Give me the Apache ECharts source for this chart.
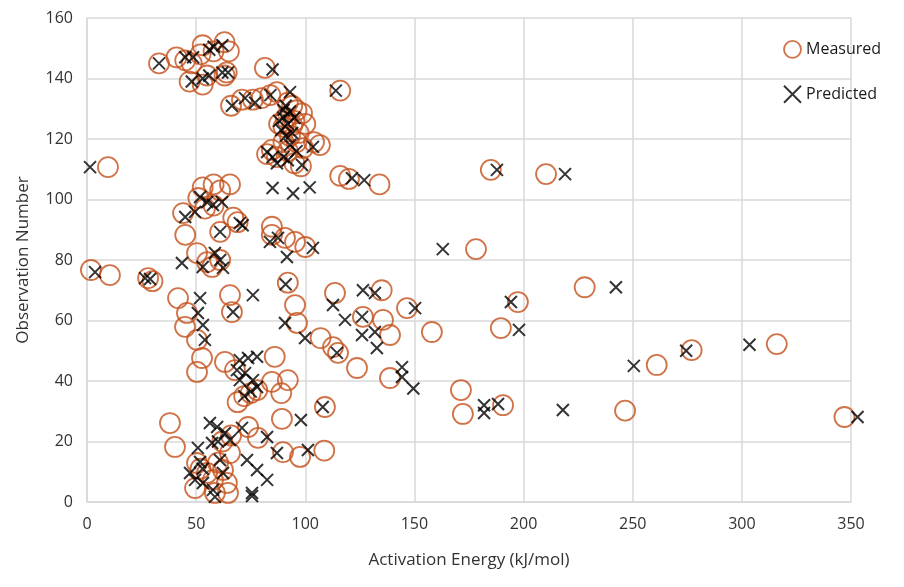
<!DOCTYPE html>
<html><head><meta charset="utf-8">
<script src="https://cdn.jsdelivr.net/npm/echarts@6/dist/echarts.min.js"></script>
<style>html,body{margin:0;padding:0;background:#fff}#c{width:904px;height:587px}</style>
</head><body><div id="c"></div>
<script>
const xTicks = [0,50,100,150,200,250,300,350];
const yTicks = [0,20,40,60,80,100,120,140,160];
const measured = [
[33,145],[41,147],[45,146],[48,145],[52,148],[53,151],[58,149],[63,152],[65,149],[47,139],[53,138],[55,141],[63,141],[64,142],[81.5,143.5],[66,131],[71,133],[76,133],[80,133.5],[84,134.5],[87,135.5],[92,132],[94,131],[96,129.5],[98.5,128.5],[116,136],
[88,125],[90,124],[91,127],[93,121],[94,124.5],[95,126],[96,119],[97,122],[99,117],[90,119],[92,116],[100,125],[98,111],[106.7,118],[104,119],[84.7,116.4],[82.5,115],[87,114],[95,112],
[9.6,110.7],[116,107.8],[120,106.8],[134,105],[185,109.8],[210.3,108.4],
[53,104],[58,105],[65.5,105],[61,103],[51,100.5],[44,95.5],[54,97],[58,98],[67,94],[69,92.5],[84.7,91],[84.7,88.3],[90.7,87.3],[95.3,86],[100,84.3],[178.2,83.6],[45,88.3],[61,89.3],
[1.8,76.7],[10.5,75],[28,74],[30,73],[50.4,82.3],[55,79.3],[57.3,77.7],[61,80],[92,72.5],[113.6,69.1],[135,70],[228,71],
[41.7,67.4],[45.8,62.5],[44.9,57.9],[65.5,68.4],[66.4,62.8],[95.3,65.1],[96.2,59.2],[146.6,64.1],[126.4,61.2],[135.6,60.2],[138.8,55.2],[158,56.2],[197.4,66.1],[189.6,57.5],
[50.4,53.6],[52.7,47.6],[50.4,43],[63.2,46.3],[67.8,43.6],[86,48],[84.7,39.7],[92,40.3],[107,54.2],[112.7,51.2],[115,49.3],[123.7,44.3],[138.8,41],[261,45.3],[277,50.2],[316,52.2],
[69,33],[72,35],[75,36],[78,37],[89,36],[171.3,37],[172.2,29.1],[190.6,32],[246.5,30.2],[347,28.1],[38,26.1],[109,31.4],[89.3,27.5],[73.8,24.8],
[40.3,18.2],[78.3,21.2],[97.6,14.9],[89.8,16.5],[108.7,17],[65.5,16.2],[50.4,12.9],[49.5,4.6],[55,9.6],[57.7,7.3],[62.3,10.6],[64.1,6.3],[64.6,3],[58.6,3],[62,20],[66,22],[52,11],[60,13]
];
const predicted = [
[33,145],[45,147],[48.6,147],[56,149.5],[58,150.5],[62,151],[48,139],[53,140],[56,141],[62,142],[64.6,142],[85,143],[66.4,131],[72.4,133.5],[77,132],[84,134.5],[93,135.5],[90,129.6],[114,136],
[88,126],[89,123],[90,127],[91,121],[92,125],[93,118],[94,122],[95,127],[90,114],[92,113],[96,116],[98.5,111.4],[103.5,117.4],[82.5,115.7],[85,114],[87,112],[91,131],[93,129],
[1.4,110.7],[85,103.8],[94.4,102],[102,104],[121.4,107],[127,106.4],[187.8,109.8],[219,108.4],
[51.8,100.8],[55,99.2],[57.7,98.2],[61.8,99.2],[45,94.2],[49.5,95.9],[61,89.3],[70,92.2],[71.3,91.5],[83.8,86],[87.5,87.3],[91.6,81],[103.5,84],[163,83.6],[43.5,79],[53,77.7],[58.6,82.3],[61,80],[62.3,77.4],
[3.7,76],[26.6,74],[28.9,73.7],[91,72],[126.4,70],[131.9,69.1],[242.3,71],[51.8,67.4],[76,68.4],[112.7,65.1],[150.3,64.1],[194.2,66.1],
[66.9,62.8],[50.8,62.5],[53.1,58.5],[54,53.6],[90.7,59.2],[99.9,54.2],[118.2,60.2],[126,61.2],[126,55.2],[131.9,56.2],[132.8,50.9],[197.9,56.9],[274.5,50],[303.5,52],
[70,46.9],[73.8,47.6],[77.9,48],[68.7,43.6],[72.4,42.6],[70,40.3],[76,40.3],[77.9,38],[114.5,49.3],[144.3,44.6],[144.3,41.3],[149.5,37.5],[250.5,45],[72,35],[75,36.5],
[108,31.4],[181.9,32],[188.3,32.4],[181.9,29.4],[218,30.4],[353,28.1],[98,27.1],
[56.3,26.1],[59.6,24.8],[63.2,22.8],[65.5,20.5],[71,24.5],[50.8,17.9],[57.3,19.5],[82.5,21.5],[87,16.2],[101.2,17.2],[51.8,13.2],[47.2,9.6],[49.5,7.3],[53.1,6.3],[60.9,13.9],[62.3,9.6],[57.7,4],[58.6,1.7],[73.3,13.9],[77.9,10.6],[82.5,7.3],[75.6,3],[75.6,2],[60,20],[53,11]
];
const seriesNames = ['Measured','Predicted'];
const FONT = '"Open Sans", "Liberation Sans", sans-serif';
const chart = echarts.init(document.getElementById('c'), null, {renderer:'canvas'});
const crossPath = 'path://M0,0L10,10M10,0L0,10';
const ORANGE = '#C4501A';
chart.setOption({
  animation:false,
  backgroundColor:'#fff',
  grid:{left:87,right:53,top:18,bottom:85,containLabel:false},
  legend:{
    orient:'vertical', left:778, top:35, itemGap:26, itemWidth:17, itemHeight:17,
    textStyle:{fontFamily:FONT,fontSize:16,color:'#1a1a1a'},
    data:[
      {name:seriesNames[0], icon:'circle', itemStyle:{color:'transparent',borderColor:ORANGE,borderWidth:1.8}},
      {name:seriesNames[1], icon:crossPath, itemStyle:{color:'transparent',borderColor:'#000',borderWidth:2}}
    ]
  },
  xAxis:{
    type:'value', min:xTicks[0], max:xTicks[xTicks.length-1], interval:50,
    name:'Activation Energy (kJ/mol)', nameLocation:'middle', nameGap:50,
    nameTextStyle:{fontFamily:FONT,fontSize:17,color:'#333'},
    axisLine:{show:true,lineStyle:{color:'#d9d9d9',width:1.5}},
    axisTick:{show:false},
    axisLabel:{fontFamily:FONT,fontSize:16,color:'#333',margin:14},
    splitLine:{show:true,lineStyle:{color:'#d9d9d9',width:1.5}}
  },
  yAxis:{
    type:'value', min:yTicks[0], max:yTicks[yTicks.length-1], interval:20,
    name:'Observation Number', nameLocation:'middle', nameGap:55,
    nameTextStyle:{fontFamily:FONT,fontSize:17,color:'#333'},
    axisLine:{show:true,lineStyle:{color:'#d9d9d9',width:1.5}},
    axisTick:{show:false},
    axisLabel:{fontFamily:FONT,fontSize:16,color:'#333',margin:14},
    splitLine:{show:true,lineStyle:{color:'#d9d9d9',width:1.5}}
  },
  series:[
    {name:seriesNames[0], type:'scatter', data:measured, symbol:'circle', symbolSize:20, clip:false,
     itemStyle:{color:'transparent',borderColor:ORANGE,borderWidth:1.8}, z:2},
    {name:seriesNames[1], type:'scatter', data:predicted, symbol:crossPath, symbolSize:12, clip:false,
     itemStyle:{color:'transparent',borderColor:'#000',borderWidth:2}, z:3}
  ]
});
</script></body></html>
